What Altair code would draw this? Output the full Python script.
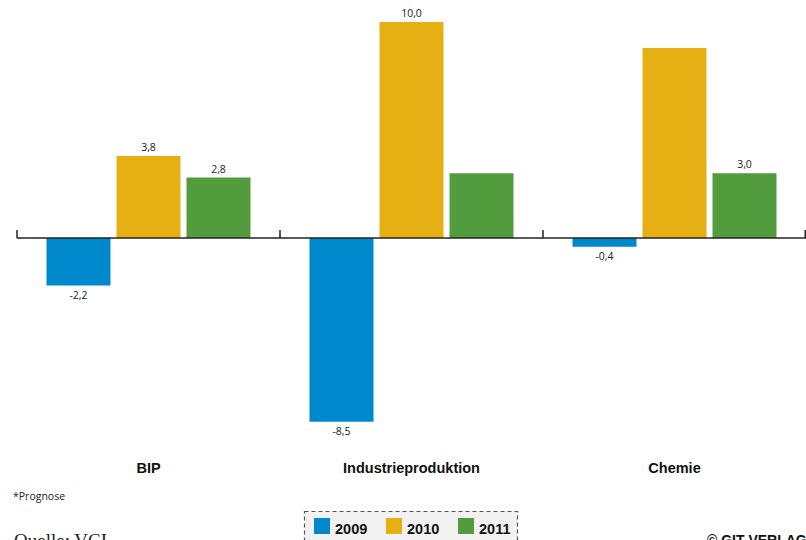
import altair as alt
import pandas as pd

categories = ["BIP", "Industrieproduktion", "Chemie"]
years = ["2009", "2010", "2011"]
values_2009 = [-2.2, -8.5, -0.4]
values_2010 = [3.8, 10.0, 8.8]
values_2011 = [2.8, 3.0, 3.0]
labels_2009 = ["-2,2", "-8,5", "-0,4"]
labels_2010 = ["3,8", "10,0", ""]
labels_2011 = ["2,8", "", "3,0"]
colors = ["#0088cc", "#e6b014", "#529c3e"]
footnote = "*Prognose"
source = "Quelle: VCI"
copyright_text = "© GIT VERLAG"

rows = []
for yr, vals, labs in zip(years, [values_2009, values_2010, values_2011],
                          [labels_2009, labels_2010, labels_2011]):
    for c, v, l in zip(categories, vals, labs):
        rows.append({"cat": c, "year": yr, "value": v, "label": l})
df = pd.DataFrame(rows)
one = pd.DataFrame({"a": [0]})

W, H = 789, 540
BOLD = "Liberation Sans, Arial, sans-serif"
SANS = "Open Sans, Noto Sans, sans-serif"

yscale = alt.Scale(domain=[-13.98, 11.02], nice=False, zero=False)
xscale = alt.Scale(domain=categories, paddingInner=0, paddingOuter=0)
xoff = alt.XOffset("year:N", scale=alt.Scale(domain=years, paddingInner=0.0857, paddingOuter=0.4214))
color = alt.Color("year:N", scale=alt.Scale(domain=years, range=colors), legend=None)

base = alt.Chart(df)

bars = base.mark_bar().encode(
    x=alt.X("cat:N", scale=xscale, axis=None),
    xOffset=xoff,
    y=alt.Y("value:Q", scale=yscale, axis=None),
    y2=alt.datum(0),
    color=color,
)

# baseline (zero line) and category separator ticks
zero_line = alt.Chart(one).mark_rule(color="#222", strokeWidth=1.5).encode(
    x=alt.value(0), x2=alt.value(W), y=alt.Y("a:Q", scale=yscale, axis=None))
sep_ticks = alt.Chart(pd.DataFrame({"cat": categories})).mark_rule(color="#222", strokeWidth=1.5).encode(
    x=alt.X("cat:N", scale=xscale, axis=None, bandPosition=0), y=alt.value(230), y2=alt.value(238))
last_tick = alt.Chart(one).mark_rule(color="#222", strokeWidth=1.5).encode(
    x=alt.value(W - 0.75), y=alt.value(230), y2=alt.value(238))

pos_labels = base.transform_filter("datum.value >= 0").mark_text(
    baseline="alphabetic", dy=-5, font=SANS, fontSize=10.5, color="#222").encode(
    x=alt.X("cat:N", scale=xscale, axis=None), xOffset=xoff,
    y=alt.Y("value:Q", scale=yscale, axis=None), text="label:N")

neg_labels = base.transform_filter("datum.value < 0").mark_text(
    baseline="alphabetic", dy=13, font=SANS, fontSize=10.5, color="#222").encode(
    x=alt.X("cat:N", scale=xscale, axis=None), xOffset=xoff,
    y=alt.Y("value:Q", scale=yscale, axis=None), text="label:N")

cat_labels = alt.Chart(pd.DataFrame({"cat": categories})).mark_text(
    font=BOLD, fontWeight="bold", fontSize=14.5, baseline="alphabetic", color="#111").encode(
    x=alt.X("cat:N", scale=xscale, axis=None), y=alt.value(473), text="cat:N")

main = alt.layer(bars, zero_line, sep_ticks, last_tick, pos_labels, neg_labels, cat_labels)

leg_df = pd.DataFrame({"year": years})
leg_x = alt.X("year:N", scale=alt.Scale(domain=years, range=[305, 449], padding=0), axis=None)

box = alt.Chart(one).mark_rect(fill="#f2f2f2", stroke="#555", strokeDash=[4, 3], strokeWidth=1.2).encode(
    x=alt.value(287.5), x2=alt.value(500.5), y=alt.value(511.5), y2=alt.value(590))
swatches = alt.Chart(leg_df).mark_square(size=256, opacity=1).encode(
    x=leg_x, y=alt.value(526), color=color)
leg_text = alt.Chart(leg_df).mark_text(
    align="left", dx=13, baseline="alphabetic", font=BOLD, fontWeight="bold",
    fontSize=14.5, color="#111").encode(x=leg_x, y=alt.value(533.5), text="year:N")

foot = alt.Chart(one).mark_text(align="left", baseline="alphabetic", font=SANS, fontSize=10.5,
                                color="#222", text=footnote).encode(x=alt.value(-4), y=alt.value(500))
src = alt.Chart(one).mark_text(align="left", baseline="alphabetic", font="Liberation Serif, serif",
                               fontSize=19, color="#222", text=source).encode(x=alt.value(-3), y=alt.value(547))
copy = alt.Chart(one).mark_text(align="left", baseline="alphabetic", font="Liberation Sans, sans-serif",
                                fontWeight="bold", fontSize=14, color="#111",
                                text=copyright_text).encode(x=alt.value(690), y=alt.value(545))

legend = alt.layer(box, swatches, leg_text, foot, src, copy)

chart = alt.layer(main, legend).resolve_scale(x="independent").properties(
    width=W, height=H,
    padding={"left": 17, "right": 0, "top": 0, "bottom": 0},
    autosize=alt.AutoSizeParams(type="none"),
    background="white",
).configure_view(stroke=None)

chart.save("out.html", embed_options={"renderer": "svg", "actions": False})
